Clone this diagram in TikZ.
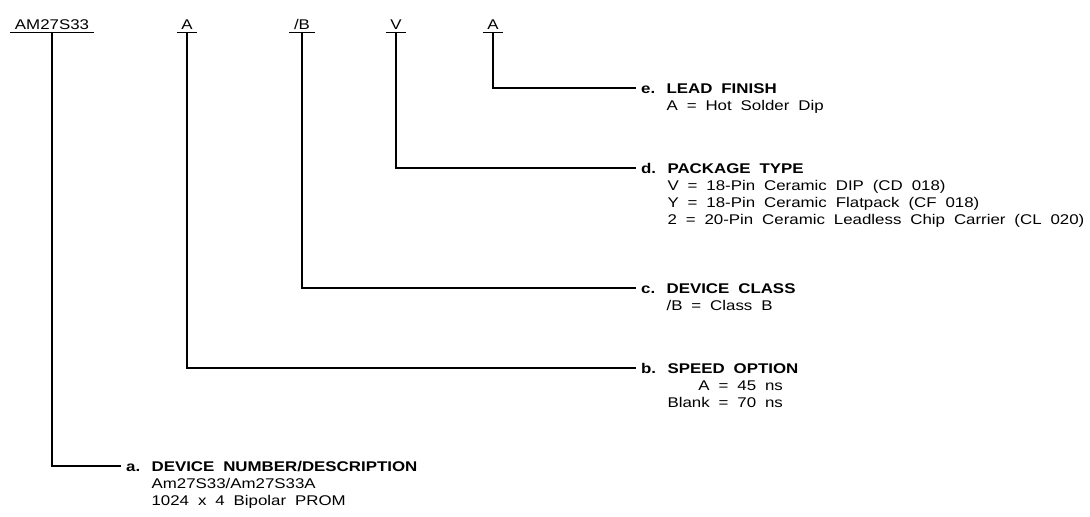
\documentclass[tikz,border=0pt]{standalone}
\usepackage{fontspec}
\setmainfont{Liberation Sans}[FakeStretch=1.2, WordSpace=1.9]
\usepackage{tikz}

\begin{document}
\fontsize{10}{12.1}\selectfont
\begin{tikzpicture}[x=0.025cm, y=0.025cm, line width=0.9pt,
    part/.style={anchor=base, inner xsep=2.8pt, inner ysep=2.1pt, text depth=0pt},
    tag/.style={anchor=west, inner xsep=3.2pt, inner ysep=0pt, text height=7.16pt, text depth=0pt, font=\bfseries},
    desc/.style={anchor=base west, inner xsep=4pt, inner ysep=0pt}]
    \useasboundingbox (0, 0) rectangle (1090, 516);

    \node[part] (am) at (52, 487) {AM27S33};
    \node[part] (sp) at (187, 487) {A};
    \node[part] (cl) at (302, 487) {/B};
    \node[part] (pk) at (396, 487) {V};
    \node[part] (lf) at (493, 487) {A};
    \foreach \p in {am, sp, cl, pk, lf}
        \draw (\p.south west) -- (\p.south east);

    \node[tag] (te) at (636, 428) {e.};
    \node[tag] (td) at (636, 348) {d.};
    \node[tag] (tc) at (636, 228) {c.};
    \node[tag] (tb) at (636, 148) {b.};
    \node[tag] (ta) at (121, 50) {a.};

    \node[desc] (de) at (te.base east) {\begin{tabular}[t]{@{}l@{}}
        \textbf{LEAD FINISH}\\
        A = Hot Solder Dip
    \end{tabular}};
    \node[desc] (dd) at (td.base east) {\begin{tabular}[t]{@{}l@{}}
        \textbf{PACKAGE TYPE}\\
        V = 18-Pin Ceramic DIP (CD 018)\\
        Y = 18-Pin Ceramic Flatpack (CF 018)\\
        2 = 20-Pin Ceramic Leadless Chip Carrier (CL 020)
    \end{tabular}};
    \node[desc] (dc) at (tc.base east) {\begin{tabular}[t]{@{}l@{}}
        \textbf{DEVICE CLASS}\\
        /B = Class B
    \end{tabular}};
    \node[desc] (db) at (tb.base east) {\begin{tabular}[t]{@{}l@{}}
        \textbf{SPEED OPTION}\\
        \setbox0\hbox{Blank}\makebox[\wd0][r]{A} = 45 ns\\
        Blank = 70 ns
    \end{tabular}};
    \node[desc] (da) at (ta.base east) {\begin{tabular}[t]{@{}l@{}}
        \textbf{DEVICE NUMBER/DESCRIPTION}\\
        Am27S33/Am27S33A\\
        1024 x 4 Bipolar PROM
    \end{tabular}};

    \draw (lf.south) |- (te.west);
    \draw (pk.south) |- (td.west);
    \draw (cl.south) |- (tc.west);
    \draw (sp.south) |- (tb.west);
    \draw (am.south) |- (ta.west);
\end{tikzpicture}
\end{document}
